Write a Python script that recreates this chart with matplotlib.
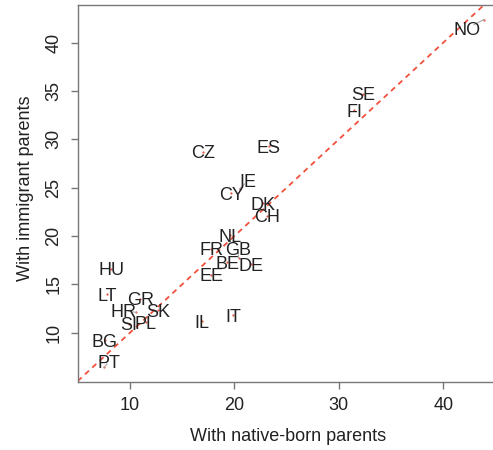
import numpy as np
import matplotlib
matplotlib.use('Agg')
import matplotlib.pyplot as plt

plt.rcParams['font.family'] = ['Liberation Sans', 'DejaVu Sans']

countries = ['NO', 'SE', 'FI', 'CZ', 'ES', 'IE', 'CY', 'DK', 'CH', 'NL',
             'FR', 'GB', 'BE', 'DE', 'EE', 'HU', 'LT', 'GR', 'HR', 'SK',
             'SI', 'PL', 'IL', 'IT', 'BG', 'PT']
native = [43.9, 32.3, 31.5, 17.0, 23.3, 20.5, 19.7, 22.7, 23.1, 19.6,
          17.8, 20.4, 19.3, 21.6, 17.8, 8.2, 7.8, 11.0, 10.6, 12.7,
          9.9, 11.5, 16.9, 19.9, 7.6, 7.5]
immigrant = [42.4, 34.7, 33.0, 28.7, 29.3, 24.9, 24.4, 23.4, 22.1, 20.1,
             18.7, 17.7, 17.3, 17.1, 16.0, 16.6, 14.0, 13.5, 12.1, 12.3,
             10.9, 11.1, 11.2, 11.8, 9.2, 6.4]

# labels that were pushed away from their point (label - point)
moved = {'NO': (-1.6, -0.9), 'IE': (0.8, 0.8), 'GB': (-0.05, 1.0),
         'HR': (-1.2, 0.2), 'PT': (0.5, 0.6)}

fs = 13

fig = plt.figure(figsize=(4.93, 4.5), dpi=100)
ax = fig.add_axes([0.1576, 0.1518, 0.8424, 0.8364])
ax.set_xlim(4.99, 44.77)
ax.set_ylim(4.93, 43.87)

ax.axline((0, 0), slope=1, color='#f0503c', lw=1.3, ls=(0, (3, 2.5)), zorder=1)
ax.plot(native, immigrant, 'o', color='#f0503c', ms=1.6, mew=0, zorder=2)

for c, x, y in zip(countries, native, immigrant):
    dx, dy = moved.get(c, (0, 0))
    if c in moved:
        ax.plot([x, x + dx * 0.6], [y, y + dy * 0.6], color='#aaaaaa', lw=0.8, zorder=2)
    ax.text(x + dx, y + dy, c, ha='center', va='center_baseline',
            fontsize=fs, color='#222222', zorder=3)

ax.set_xticks([10, 20, 30, 40])
ax.set_yticks([10, 15, 20, 25, 30, 35, 40])
ax.tick_params(length=5, width=1, color='#777777', pad=6, labelsize=fs,
               labelcolor='#222222')
for lab in ax.get_yticklabels():
    lab.set_rotation(90)
    lab.set_va('center')

for s in ['left', 'bottom', 'top']:
    ax.spines[s].set_color('#777777')
    ax.spines[s].set_linewidth(1)
ax.spines['right'].set_visible(False)

ax.set_xlabel('With native-born parents', fontsize=fs, color='#222222', va='center')
ax.set_ylabel('With immigrant parents', fontsize=fs, color='#222222', va='center')
ax.xaxis.set_label_coords(0.507, -0.146)
ax.yaxis.set_label_coords(-0.125, 0.513)

fig.savefig('out.png', dpi=100)
